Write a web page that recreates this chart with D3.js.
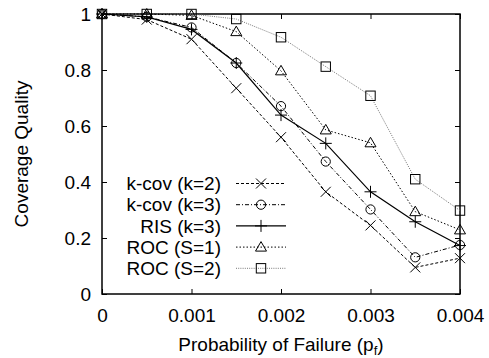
<!DOCTYPE html>
<html>
<head>
<meta charset="utf-8">
<script src="https://cdn.jsdelivr.net/npm/d3@7"></script>
<style>
  html, body { margin: 0; padding: 0; background: #fff; }
  svg { display: block; font-family: "Liberation Sans", Arial, sans-serif; }
</style>
</head>
<body>
<svg id="chart" width="489" height="358"></svg>
<script>
// Failure probabilities sampled on the x axis
const pf = [0, 0.0005, 0.001, 0.0015, 0.002, 0.0025, 0.003, 0.0035, 0.004];

// Coverage quality per scheme
const kcov2 = [1.0, 0.98, 0.91, 0.735, 0.56, 0.365, 0.245, 0.095, 0.128];
const kcov3 = [1.0, 0.99, 0.952, 0.825, 0.671, 0.473, 0.302, 0.131, 0.175];
const ris3  = [1.0, 0.99, 0.945, 0.825, 0.639, 0.538, 0.365, 0.258, 0.173];
const roc1  = [1.0, 1.0, 0.995, 0.937, 0.797, 0.586, 0.540, 0.294, 0.229];
const roc2  = [1.0, 1.0, 1.0, 0.982, 0.917, 0.812, 0.708, 0.410, 0.298];

const seriesNames = ["k-cov (k=2)", "k-cov (k=3)", "RIS (k=3)", "ROC (S=1)", "ROC (S=2)"];

const xTicks = [0, 0.001, 0.002, 0.003, 0.004];
const xTickLabels = ["0", "0.001", "0.002", "0.003", "0.004"];
const yTicks = [0, 0.2, 0.4, 0.6, 0.8, 1];
const yTickLabels = ["0", "0.2", "0.4", "0.6", "0.8", "1"];

const series = [
  { name: seriesNames[0], values: kcov2, marker: "cross",    color: "#000", dash: "3,2",     width: 1 },
  { name: seriesNames[1], values: kcov3, marker: "circle",   color: "#000", dash: "4,2,1,2", width: 1 },
  { name: seriesNames[2], values: ris3,  marker: "plus",     color: "#000", dash: null,      width: 1.2 },
  { name: seriesNames[3], values: roc1,  marker: "triangle", color: "#000", dash: "1.5,2",   width: 1 },
  { name: seriesNames[4], values: roc2,  marker: "square",   color: "#777", dash: "1,1.2",   width: 1 }
];

const svg = d3.select("#chart");
const margin = { left: 102, right: 29, top: 14, bottom: 64 };
const W = 489, H = 358;
const x = d3.scaleLinear().domain([0, 0.004]).range([margin.left, W - margin.right]);
const y = d3.scaleLinear().domain([0, 1]).range([H - margin.bottom, margin.top]);

const fontSize = 19;

// Axes with inward ticks, mirrored on top and right
const gx = svg.append("g").attr("transform", `translate(0,${y(0)})`)
  .call(d3.axisBottom(x).tickValues(xTicks).tickSizeInner(-5).tickSizeOuter(0).tickPadding(15)
    .tickFormat((d, i) => xTickLabels[i]));
const gxTop = svg.append("g").attr("transform", `translate(0,${y(1)})`)
  .call(d3.axisTop(x).tickValues(xTicks).tickSizeInner(-5).tickSizeOuter(0).tickFormat(""));
const gy = svg.append("g").attr("transform", `translate(${x(0)},0)`)
  .call(d3.axisLeft(y).tickValues(yTicks).tickSizeInner(-5).tickSizeOuter(0).tickPadding(11)
    .tickFormat((d, i) => yTickLabels[i]));
const gyRight = svg.append("g").attr("transform", `translate(${x(0.004)},0)`)
  .call(d3.axisRight(y).tickValues(yTicks).tickSizeInner(-5).tickSizeOuter(0).tickFormat(""));

[gx, gxTop, gy, gyRight].forEach(g => {
  g.select(".domain").remove();
  g.selectAll(".tick line").attr("stroke", "#000").attr("stroke-width", 1);
  g.selectAll(".tick text").attr("fill", "#000").attr("font-size", fontSize)
    .attr("font-family", "Liberation Sans, Arial, sans-serif");
});
gx.selectAll(".tick text").attr("dy", "0.71em");

// Plot frame
svg.append("rect")
  .attr("x", x(0)).attr("y", y(1))
  .attr("width", x(0.004) - x(0)).attr("height", y(0) - y(1))
  .attr("fill", "none").attr("stroke", "#000").attr("stroke-width", 1.5);

// Marker drawing
function drawMarker(g, type, cx, cy, color) {
  const s = 5;
  if (type === "cross") {
    g.append("path").attr("d", `M${cx - s},${cy - s}L${cx + s},${cy + s}M${cx - s},${cy + s}L${cx + s},${cy - s}`)
      .attr("stroke", color).attr("stroke-width", 1).attr("fill", "none");
  } else if (type === "plus") {
    g.append("path").attr("d", `M${cx - s - 1},${cy}L${cx + s + 1},${cy}M${cx},${cy - s - 1}L${cx},${cy + s + 1}`)
      .attr("stroke", color).attr("stroke-width", 1).attr("fill", "none");
  } else if (type === "circle") {
    g.append("circle").attr("cx", cx).attr("cy", cy).attr("r", 4.6)
      .attr("stroke", color).attr("stroke-width", 1).attr("fill", "none");
  } else if (type === "triangle") {
    g.append("path").attr("d", `M${cx},${cy - 5.5}L${cx + 5.5},${cy + 4}L${cx - 5.5},${cy + 4}Z`)
      .attr("stroke", color).attr("stroke-width", 1).attr("fill", "none");
  } else if (type === "square") {
    g.append("rect").attr("x", cx - 4.7).attr("y", cy - 4.7).attr("width", 9.4).attr("height", 9.4)
      .attr("stroke", "#000").attr("stroke-width", 1).attr("fill", "none");
  }
}

const line = d3.line().x(d => x(d[0])).y(d => y(d[1]));

// Draw series, back to front
series.slice().reverse().forEach(s => {
  const pts = pf.map((p, i) => [p, s.values[i]]);
  const g = svg.append("g");
  g.append("path").datum(pts).attr("d", line)
    .attr("fill", "none").attr("stroke", s.color).attr("stroke-width", s.width)
    .attr("stroke-dasharray", s.dash);
  pts.forEach(p => drawMarker(g, s.marker, x(p[0]), y(p[1]), "#000"));
});

// Legend
const legendTop = 183.5, legendStep = 21.2;
const legendTextX = 221, lineX1 = 236, lineX2 = 286;
series.forEach((s, i) => {
  const ly = legendTop + i * legendStep;
  const g = svg.append("g");
  g.append("text").attr("x", legendTextX).attr("y", ly).attr("dy", "0.35em")
    .attr("text-anchor", "end").attr("font-size", fontSize).attr("fill", "#000").text(s.name);
  g.append("line").attr("x1", lineX1).attr("x2", lineX2).attr("y1", ly).attr("y2", ly)
    .attr("stroke", s.color).attr("stroke-width", s.width).attr("stroke-dasharray", s.dash);
  drawMarker(g, s.marker, (lineX1 + lineX2) / 2, ly, "#000");
});

// Axis titles
const xt = svg.append("text").attr("x", 281).attr("y", 351)
  .attr("text-anchor", "middle").attr("font-size", fontSize).attr("fill", "#000");
xt.append("tspan").text("Probability of Failure (p");
xt.append("tspan").attr("font-size", 13).attr("dy", 4).text("f");
xt.append("tspan").attr("dy", -4).text(")");

svg.append("text")
  .attr("transform", `translate(28,${(y(0) + y(1)) / 2}) rotate(-90)`)
  .attr("text-anchor", "middle").attr("font-size", fontSize).attr("fill", "#000")
  .text("Coverage Quality");
</script>
</body>
</html>
